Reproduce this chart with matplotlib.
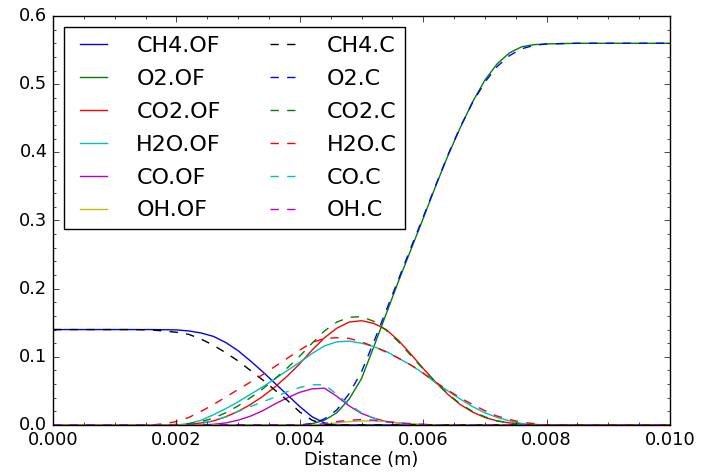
import matplotlib
matplotlib.use('Agg')
import matplotlib.pyplot as plt

plt.style.use('classic')

# distance grid (m)
distance = [0.0, 0.0005, 0.0010, 0.0012, 0.0014, 0.0016, 0.0018, 0.0020, 0.0022, 0.0024,
            0.0026, 0.0028, 0.0030, 0.0032, 0.0034, 0.0036, 0.0038, 0.0040, 0.0042, 0.0044,
            0.0046, 0.0048, 0.0050, 0.0052, 0.0054, 0.0056, 0.0058, 0.0060, 0.0062, 0.0064,
            0.0066, 0.0068, 0.0070, 0.0072, 0.0074, 0.0076, 0.0078, 0.0080, 0.0085, 0.0090,
            0.0095, 0.0100]

# OF results
ch4_of = [0.14, 0.14, 0.14, 0.14, 0.14, 0.14, 0.1398, 0.1395, 0.138, 0.135,
          0.130, 0.121, 0.109, 0.094, 0.078, 0.061, 0.044, 0.027, 0.012, 0.003,
          0, 0, 0, 0, 0, 0, 0, 0, 0, 0, 0, 0, 0, 0, 0, 0, 0, 0, 0, 0, 0, 0]
o2_of = [0, 0, 0, 0, 0, 0, 0, 0, 0, 0, 0, 0, 0, 0, 0, 0, 0, 0, 0.002, 0.007,
         0.018, 0.038, 0.068, 0.115, 0.163, 0.211, 0.257, 0.303, 0.350, 0.395,
         0.436, 0.474, 0.506, 0.530, 0.546, 0.555, 0.558, 0.559, 0.56, 0.56, 0.56, 0.56]
co2_of = [0, 0, 0, 0, 0, 0, 0, 0, 0.001, 0.003,
          0.006, 0.012, 0.020, 0.030, 0.042, 0.056, 0.072, 0.090, 0.110, 0.128,
          0.142, 0.151, 0.153, 0.149, 0.140, 0.124, 0.104, 0.083, 0.063, 0.045,
          0.030, 0.019, 0.011, 0.006, 0.003, 0.001, 0, 0, 0, 0, 0, 0]
h2o_of = [0, 0, 0, 0, 0, 0, 0, 0, 0.002, 0.007,
          0.015, 0.024, 0.034, 0.045, 0.056, 0.068, 0.080, 0.092, 0.105, 0.116,
          0.122, 0.123, 0.120, 0.115, 0.108, 0.098, 0.088, 0.076, 0.062, 0.050,
          0.038, 0.027, 0.018, 0.011, 0.006, 0.002, 0.001, 0, 0, 0, 0, 0]
co_of = [0, 0, 0, 0, 0, 0, 0, 0, 0, 0,
         0.001, 0.003, 0.007, 0.013, 0.021, 0.031, 0.040, 0.048, 0.053, 0.054,
         0.042, 0.028, 0.017, 0.010, 0.005, 0.003, 0.001, 0, 0, 0,
         0, 0, 0, 0, 0, 0, 0, 0, 0, 0, 0, 0]
oh_of = [0, 0, 0, 0, 0, 0, 0, 0, 0, 0, 0, 0, 0, 0, 0, 0, 0, 0, 0, 0.001,
         0.003, 0.005, 0.006, 0.006, 0.005, 0.003, 0.002, 0.001, 0, 0,
         0, 0, 0, 0, 0, 0, 0, 0, 0, 0, 0, 0]

# C results
ch4_c = [0.14, 0.14, 0.14, 0.14, 0.1398, 0.1393, 0.138, 0.136, 0.133, 0.126,
         0.117, 0.106, 0.094, 0.080, 0.066, 0.051, 0.036, 0.019, 0.007, 0.001,
         0, 0, 0, 0, 0, 0, 0, 0, 0, 0, 0, 0, 0, 0, 0, 0, 0, 0, 0, 0, 0, 0]
o2_c = [0, 0, 0, 0, 0, 0, 0, 0, 0, 0, 0, 0, 0, 0, 0, 0, 0, 0, 0.002, 0.009,
        0.022, 0.046, 0.078, 0.122, 0.168, 0.214, 0.260, 0.305, 0.351, 0.396,
        0.437, 0.473, 0.503, 0.526, 0.542, 0.552, 0.557, 0.559, 0.56, 0.56, 0.56, 0.56]
co2_c = [0, 0, 0, 0, 0, 0, 0, 0.001, 0.002, 0.005,
         0.010, 0.018, 0.028, 0.040, 0.053, 0.068, 0.084, 0.101, 0.120, 0.138,
         0.151, 0.158, 0.159, 0.152, 0.139, 0.122, 0.102, 0.082, 0.063, 0.046,
         0.031, 0.020, 0.012, 0.006, 0.003, 0.001, 0, 0, 0, 0, 0, 0]
h2o_c = [0, 0, 0, 0, 0, 0, 0.002, 0.005, 0.011, 0.020,
         0.030, 0.041, 0.052, 0.063, 0.074, 0.086, 0.098, 0.110, 0.121, 0.127,
         0.128, 0.127, 0.122, 0.115, 0.107, 0.098, 0.088, 0.076, 0.063, 0.051,
         0.040, 0.030, 0.021, 0.013, 0.008, 0.004, 0.002, 0, 0, 0, 0, 0]
co_c = [0, 0, 0, 0, 0, 0, 0, 0, 0, 0.002,
        0.006, 0.012, 0.020, 0.027, 0.034, 0.041, 0.049, 0.055, 0.059, 0.059,
        0.045, 0.030, 0.018, 0.010, 0.005, 0.003, 0.001, 0, 0, 0,
        0, 0, 0, 0, 0, 0, 0, 0, 0, 0, 0, 0]
oh_c = [0, 0, 0, 0, 0, 0, 0, 0, 0, 0, 0, 0, 0, 0, 0, 0, 0, 0, 0, 0.002,
        0.005, 0.007, 0.008, 0.007, 0.005, 0.003, 0.002, 0.001, 0, 0,
        0, 0, 0, 0, 0, 0, 0, 0, 0, 0, 0, 0]

species = ['CH4', 'O2', 'CO2', 'H2O', 'CO', 'OH']
of_data = [ch4_of, o2_of, co2_of, h2o_of, co_of, oh_of]
c_data = [ch4_c, o2_c, co2_c, h2o_c, co_c, oh_c]
of_colors = ['b', 'g', 'r', 'c', 'm', 'y']
c_colors = ['k', 'b', 'g', 'r', 'c', 'm']

fig = plt.figure(figsize=(7.07, 4.73), dpi=100, facecolor='white')
ax = fig.add_axes([53/707, 48/473, 617/707, 409/473])

for name, vals, col in zip(species, of_data, of_colors):
    ax.plot(distance, vals, '-', color=col, label=name + '.OF')
for name, vals, col in zip(species, c_data, c_colors):
    ax.plot(distance, vals, '--', color=col, label=name + '.C')

ax.set_xlim(0, 0.010)
ax.set_ylim(0, 0.6)
ax.minorticks_on()
ax.tick_params(labelsize=12.8)
ax.set_xlabel('Distance (m)', fontsize=12.8, labelpad=2)

ax.legend(loc='upper left', ncol=2, fontsize=16, handlelength=1.85,
          handletextpad=1.0, columnspacing=1.9, labelspacing=0.58,
          borderaxespad=0.5)

fig.savefig('out.png', dpi=100, facecolor='white')
